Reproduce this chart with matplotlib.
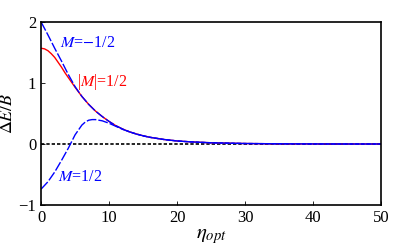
import matplotlib
matplotlib.use('Agg')
import matplotlib.pyplot as plt
import numpy as np

plt.rcParams['font.family'] = 'Liberation Serif'
plt.rcParams['mathtext.fontset'] = 'stix'

# M = -1/2 (blue dashed)
x_minus = [0, 1, 2, 3, 4, 5, 6, 7, 8, 9, 10, 11, 12, 13, 14, 15, 16, 18, 20, 22, 25, 30, 35, 40, 45, 50]
y_minus = [2.0, 1.79, 1.57, 1.36, 1.14, 0.94, 0.78, 0.65, 0.54, 0.45, 0.37, 0.30, 0.245, 0.20, 0.165,
           0.135, 0.11, 0.075, 0.05, 0.035, 0.02, 0.008, 0.003, 0.001, 0.0, 0.0]

# |M| = 1/2 (red solid)
x_abs = [0, 0.5, 1, 1.5, 2, 2.5, 3, 3.5, 4, 4.5, 5, 6, 7, 8, 9, 10, 11, 12, 13, 14, 15, 16, 18, 20, 22, 25,
         30, 35, 40, 45, 50]
y_abs = [1.57, 1.56, 1.53, 1.48, 1.42, 1.34, 1.26, 1.17, 1.09, 1.01, 0.93, 0.78, 0.65, 0.54, 0.45, 0.37,
         0.30, 0.245, 0.20, 0.165, 0.135, 0.11, 0.075, 0.05, 0.035, 0.02, 0.008, 0.003, 0.001, 0.0, 0.0]

# M = 1/2 (blue dashed)
x_plus = [0, 1, 2, 3, 4, 5, 6, 6.5, 7, 7.5, 8, 9, 10, 11, 12, 13, 14, 15, 16, 18, 20, 22, 25, 30, 35, 40,
          45, 50]
y_plus = [-0.74, -0.62, -0.46, -0.27, -0.07, 0.15, 0.31, 0.36, 0.39, 0.40, 0.40, 0.38, 0.34, 0.29, 0.24,
          0.20, 0.163, 0.133, 0.11, 0.075, 0.05, 0.035, 0.02, 0.008, 0.003, 0.001, 0.0, 0.0]

fig = plt.figure(figsize=(4.15, 2.5), dpi=100)
ax = fig.add_axes([0.099, 0.18, 0.819, 0.732])

ax.axhline(0, color='k', ls=(0, (2, 1.2)), lw=1.2)
ax.plot(x_abs, y_abs, color='#ff0000', lw=1.0)
ax.plot(x_minus, y_minus, color='#0000ff', lw=1.0, dashes=(7, 1.5))
ax.plot(x_plus, y_plus, color='#0000ff', lw=1.0, dashes=(7, 1.5))

ax.text(2.8, 1.66, r'$M$=$-$1/2', color='#0000ff', fontsize=11.5, va='center')
ax.text(5.3, 1.02, r'|$M$|=1/2', color='#ff0000', fontsize=11.5, va='center')
ax.text(2.5, -0.54, r'$M$=1/2', color='#0000ff', fontsize=11.5, va='center')

ax.set_xlim(0, 50)
ax.set_ylim(-1, 2)
ax.set_xticks([0, 10, 20, 30, 40, 50])
ax.set_yticks([-1, 0, 1, 2])
ax.tick_params(direction='in', length=3, width=0.6, labelsize=12, colors='k')
for s in ax.spines.values():
    s.set_linewidth(1.2)

ax.set_xlabel(r'$\eta_{opt}$', fontsize=15, labelpad=1)
ax.set_ylabel(r'$\Delta E/B$', fontsize=13, labelpad=2)

fig.savefig('out.png', dpi=100)
